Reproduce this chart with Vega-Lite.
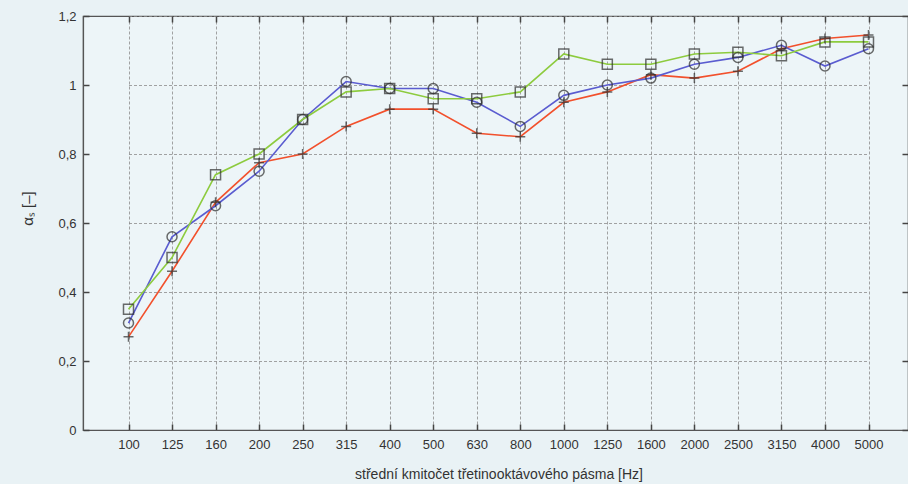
{
  "$schema": "https://vega.github.io/schema/vega-lite/v6.json",
  "autosize": {"type": "none"},
  "width": 825,
  "height": 414,
  "padding": {"left": 83, "top": 16, "right": 0, "bottom": 54},
  "background": "#e9f2f5",
  "config": {
    "view": {"stroke": "#555555", "strokeWidth": 1.2, "fill": "#edf5f8"},
    "font": "Liberation Sans",
    "axis": {"labelFont": "Liberation Sans", "titleFont": "Liberation Sans", "labelColor": "#333333", "titleColor": "#333333", "titleFontWeight": "normal"}
  },
  "data": {"values": [
    {"f": "100", "s": "A", "v": 0.27}, {"f": "125", "s": "A", "v": 0.46}, {"f": "160", "s": "A", "v": 0.66}, {"f": "200", "s": "A", "v": 0.775},
    {"f": "250", "s": "A", "v": 0.80}, {"f": "315", "s": "A", "v": 0.88}, {"f": "400", "s": "A", "v": 0.93}, {"f": "500", "s": "A", "v": 0.93},
    {"f": "630", "s": "A", "v": 0.86}, {"f": "800", "s": "A", "v": 0.85}, {"f": "1000", "s": "A", "v": 0.95}, {"f": "1250", "s": "A", "v": 0.98},
    {"f": "1600", "s": "A", "v": 1.03}, {"f": "2000", "s": "A", "v": 1.02}, {"f": "2500", "s": "A", "v": 1.04}, {"f": "3150", "s": "A", "v": 1.105},
    {"f": "4000", "s": "A", "v": 1.135}, {"f": "5000", "s": "A", "v": 1.145},
    {"f": "100", "s": "B", "v": 0.31}, {"f": "125", "s": "B", "v": 0.56}, {"f": "160", "s": "B", "v": 0.65}, {"f": "200", "s": "B", "v": 0.75},
    {"f": "250", "s": "B", "v": 0.90}, {"f": "315", "s": "B", "v": 1.01}, {"f": "400", "s": "B", "v": 0.99}, {"f": "500", "s": "B", "v": 0.99},
    {"f": "630", "s": "B", "v": 0.95}, {"f": "800", "s": "B", "v": 0.88}, {"f": "1000", "s": "B", "v": 0.97}, {"f": "1250", "s": "B", "v": 1.00},
    {"f": "1600", "s": "B", "v": 1.02}, {"f": "2000", "s": "B", "v": 1.06}, {"f": "2500", "s": "B", "v": 1.08}, {"f": "3150", "s": "B", "v": 1.115},
    {"f": "4000", "s": "B", "v": 1.055}, {"f": "5000", "s": "B", "v": 1.105},
    {"f": "100", "s": "C", "v": 0.35}, {"f": "125", "s": "C", "v": 0.50}, {"f": "160", "s": "C", "v": 0.74}, {"f": "200", "s": "C", "v": 0.80},
    {"f": "250", "s": "C", "v": 0.90}, {"f": "315", "s": "C", "v": 0.98}, {"f": "400", "s": "C", "v": 0.99}, {"f": "500", "s": "C", "v": 0.96},
    {"f": "630", "s": "C", "v": 0.96}, {"f": "800", "s": "C", "v": 0.98}, {"f": "1000", "s": "C", "v": 1.09}, {"f": "1250", "s": "C", "v": 1.06},
    {"f": "1600", "s": "C", "v": 1.06}, {"f": "2000", "s": "C", "v": 1.09}, {"f": "2500", "s": "C", "v": 1.095}, {"f": "3150", "s": "C", "v": 1.085},
    {"f": "4000", "s": "C", "v": 1.125}, {"f": "5000", "s": "C", "v": 1.125}
  ]},
  "resolve": {"axis": {"x": "independent", "y": "independent"}},
  "layer": [
    {
      "mark": {"type": "line", "strokeWidth": 1.6},
      "encoding": {
        "x": {"field": "f", "type": "ordinal",
          "sort": ["100","125","160","200","250","315","400","500","630","800","1000","1250","1600","2000","2500","3150","4000","5000"],
          "scale": {"type": "point", "range": [45.5, 785.5], "padding": 0},
          "axis": {"orient": "bottom", "title": "střední kmitočet třetinooktávového pásma [Hz]", "titleFontSize": 14, "labelFontSize": 13, "labelAngle": 0,
            "grid": true, "gridColor": "#8c8c8c", "gridDash": [3, 2], "gridWidth": 0.8,
            "domainColor": "#555555", "domainWidth": 1.2, "tickColor": "#444444", "tickWidth": 1.5, "tickSize": -6, "labelPadding": 14,
            "titleY": 44, "titleBaseline": "middle"}},
        "y": {"field": "v", "type": "quantitative",
          "scale": {"domain": [0, 1.2], "nice": false},
          "axis": {"orient": "left", "values": [0, 0.2, 0.4, 0.6, 0.8, 1, 1.2], "labelExpr": "replace(format(datum.value, '~g'), '.', ',')",
            "title": "αₛ [–]", "titleFontSize": 15, "labelFontSize": 13,
            "grid": true, "gridColor": "#8c8c8c", "gridDash": [3, 2], "gridWidth": 0.8,
            "domainColor": "#555555", "domainWidth": 1.2, "tickColor": "#444444", "tickWidth": 1.5, "tickSize": -6, "labelPadding": 13,
            "titleX": -56, "titleY": 192, "titleAlign": "center", "titleBaseline": "middle", "titleAngle": -90}},
        "color": {"field": "s", "type": "nominal", "scale": {"domain": ["A", "B", "C"], "range": ["#f2502c", "#5a5cd0", "#8dcb3e"]}, "legend": null}
      }
    },
    {
      "mark": {"type": "point", "filled": false, "stroke": "#2e2e2e", "strokeWidth": 1.5, "size": 100},
      "encoding": {
        "x": {"field": "f", "type": "ordinal", "sort": ["100","125","160","200","250","315","400","500","630","800","1000","1250","1600","2000","2500","3150","4000","5000"], "axis": null},
        "y": {"field": "v", "type": "quantitative", "axis": null},
        "shape": {"field": "s", "type": "nominal", "scale": {"domain": ["A", "B", "C"], "range": ["M-1,0L1,0M0,-1L0,1", "circle", "square"]}, "legend": null}
      }
    },
    {
      "mark": {"type": "point", "opacity": 0},
      "encoding": {
        "x": {"field": "f", "type": "ordinal", "sort": ["100","125","160","200","250","315","400","500","630","800","1000","1250","1600","2000","2500","3150","4000","5000"],
          "axis": {"orient": "top", "labels": false, "title": null, "grid": false, "domain": false, "tickColor": "#444444", "tickWidth": 1.5, "tickSize": -6}},
        "y": {"field": "v", "type": "quantitative",
          "axis": {"orient": "right", "values": [0, 0.2, 0.4, 0.6, 0.8, 1, 1.2], "labels": false, "title": null, "grid": false, "domain": false, "tickColor": "#444444", "tickWidth": 1.5, "tickSize": -6}}
      }
    }
  ]
}
